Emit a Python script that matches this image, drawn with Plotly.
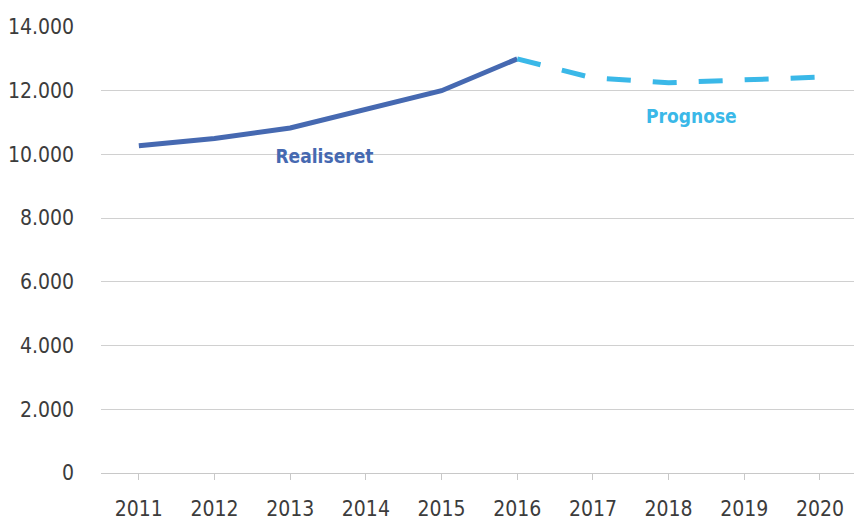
import plotly.graph_objects as go

years = ["2011", "2012", "2013", "2014", "2015", "2016", "2017", "2018", "2019", "2020"]
realiseret_years = years[:6]
realiseret = [10270, 10500, 10830, 11400, 12000, 13000]
prognose_years = years[5:]
prognose = [13000, 12400, 12250, 12340, 12430]

font = "Liberation Sans Narrow, DejaVu Sans, sans-serif"

fig = go.Figure()
fig.add_trace(go.Scatter(x=realiseret_years, y=realiseret, mode="lines",
                         line=dict(color="#4669b1", width=5), name="Realiseret"))
fig.add_trace(go.Scatter(x=prognose_years, y=prognose, mode="lines",
                         line=dict(color="#3ab8e8", width=5, dash="24px,22px"), name="Prognose"))

fig.add_annotation(x=2.45, y=9950, text="<b>Realiseret</b>", showarrow=False,
                   font=dict(family=font, size=19, color="#4669b1"))
fig.add_annotation(x=7.3, y=11200, text="<b>Prognose</b>", showarrow=False,
                   font=dict(family=font, size=19, color="#3ab8e8"))

fig.update_layout(
    width=854, height=520,
    margin=dict(l=101, r=0, t=27, b=47),
    plot_bgcolor="white", paper_bgcolor="white",
    showlegend=False,
    separators=",.",
    font=dict(family=font, size=21, color="#3c3c3c"),
)
fig.update_xaxes(type="category", range=[-0.5, 9.45], showgrid=False,
                 showline=True, linecolor="#c8c8c8", linewidth=1,
                 ticks="outside", ticklen=6, tickcolor="#c8c8c8",
                 ticklabelstandoff=11)
fig.update_yaxes(range=[0, 14000], dtick=2000, tickformat=",d",
                 gridcolor="#d0d0d0", gridwidth=1, zeroline=False,
                 ticks="", ticklabelstandoff=26)

# no body margin, condensed text like the original
js = ("document.body.style.margin='0';"
      "var s=document.createElement('style');"
      "s.textContent='svg text{font-stretch:condensed !important;}';"
      "document.head.appendChild(s);")
fig.write_html("out.html", post_script=js, config={"displayModeBar": False})
